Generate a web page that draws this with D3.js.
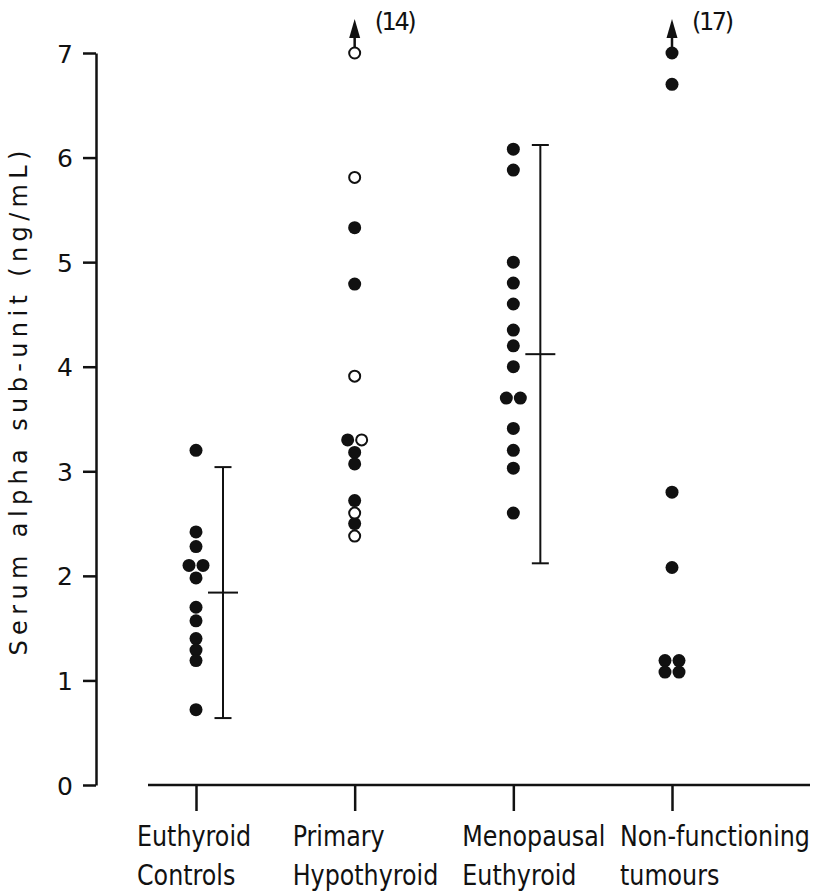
<!DOCTYPE html>
<html>
<head>
  <meta charset="UTF-8">
  <title>Serum alpha sub-unit</title>
  <script src="https://d3js.org/d3.v7.min.js"></script>
  <style>
    body {
      margin: 0;
      background: #fff;
    }
    text {
      font-family: "DejaVu Sans", sans-serif;
      fill: #111;
    }
    .axis path,
    .axis line {
      stroke: #111;
      stroke-width: 2.5;
    }
    .axis text {
      font-size: 25px;
    }
    .cat-label {
      font-size: 28px;
    }
    .bar line {
      stroke: #111;
      stroke-width: 2;
    }
  </style>
</head>
<body>
  <svg width="831" height="892"></svg>

  <script>
    // categories and values
    const categories = ["Euthyroid Controls", "Primary Hypothyroid", "Menopausal Euthyroid", "Non-functioning tumours"];
    const labelLines = [["Euthyroid", "Controls"], ["Primary", "Hypothyroid"], ["Menopausal", "Euthyroid"], ["Non-functioning", "tumours"]];

    const filledValues = [
      [3.2, 2.42, 2.28, 2.1, 2.1, 1.98, 1.7, 1.57, 1.4, 1.29, 1.19, 0.72],
      [5.33, 4.79, 3.3, 3.18, 3.07, 2.72, 2.5],
      [6.08, 5.88, 5.0, 4.8, 4.6, 4.35, 4.2, 4.0, 3.7, 3.7, 3.41, 3.2, 3.03, 2.6],
      [17, 6.7, 2.8, 2.08, 1.19, 1.19, 1.08, 1.08]
    ];
    const openValues = [
      [],
      [14, 5.81, 3.91, 3.3, 2.6, 2.38],
      [],
      []
    ];
    // mean +/- SD bars
    const meanValues = [1.84, null, 4.12, null];
    const sdValues = [1.2, null, 2.0, null];

    const yTicks = [0, 1, 2, 3, 4, 5, 6, 7];
    const yMax = 7;

    const svg = d3.select("svg");

    const x = d3.scalePoint()
      .domain(categories)
      .range([196, 672]);

    const y = d3.scaleLinear()
      .domain([0, yMax])
      .range([785, 53]);

    // y axis
    svg.append("g")
      .attr("class", "axis")
      .attr("transform", "translate(96,0)")
      .call(d3.axisLeft(y).tickValues(yTicks).tickFormat(d3.format("d"))
        .tickSize(13).tickSizeOuter(0).tickPadding(10))
      .call(g => g.selectAll("text").attr("dy", "0.36em"));

    // x axis
    const xAxis = svg.append("g")
      .attr("class", "axis")
      .attr("transform", "translate(0,785)")
      .call(d3.axisBottom(x).tickSize(26).tickSizeOuter(0).tickFormat(""));
    xAxis.select(".domain").remove();
    xAxis.append("line")
      .attr("x1", 148)
      .attr("x2", 810);

    // category labels, two lines, left aligned, squeezed to look condensed
    const labelShift = [-59, -62, -51, -52];
    categories.forEach((c, i) => {
      const t = svg.append("text")
        .attr("class", "cat-label")
        .attr("transform", `translate(${x(c) + labelShift[i]},846) scale(0.85,1)`);
      labelLines[i].forEach((line, j) => {
        t.append("tspan")
          .attr("x", 0)
          .attr("dy", j === 0 ? 0 : 39)
          .text(line);
      });
    });

    // y title
    svg.append("text")
      .attr("transform", "translate(27,403) rotate(-90)")
      .attr("text-anchor", "middle")
      .attr("textLength", 505)
      .attr("lengthAdjust", "spacing")
      .style("font-size", "24px")
      .text("Serum alpha sub-unit (ng/mL)");

    // build points, spreading equal values sideways
    const points = [];
    categories.forEach((c, i) => {
      const all = filledValues[i].map(v => ({ v, open: false }))
        .concat(openValues[i].map(v => ({ v, open: true })));
      const groups = d3.group(all, d => Math.min(d.v, yMax).toFixed(2));
      groups.forEach(list => {
        list.forEach((d, k) => {
          points.push({
            cat: c,
            v: d.v,
            open: d.open,
            dx: (k - (list.length - 1) / 2) * 14
          });
        });
      });
    });

    // error bars
    const bars = svg.append("g").attr("class", "bar");
    categories.forEach((c, i) => {
      if (meanValues[i] == null) return;
      const bx = x(c) + 27;
      const lo = meanValues[i] - sdValues[i];
      const hi = meanValues[i] + sdValues[i];
      bars.append("line").attr("x1", bx).attr("x2", bx).attr("y1", y(hi)).attr("y2", y(lo));
      bars.append("line").attr("x1", bx - 8.5).attr("x2", bx + 8.5).attr("y1", y(hi)).attr("y2", y(hi));
      bars.append("line").attr("x1", bx - 8.5).attr("x2", bx + 8.5).attr("y1", y(lo)).attr("y2", y(lo));
      bars.append("line").attr("x1", bx - 15).attr("x2", bx + 15).attr("y1", y(meanValues[i])).attr("y2", y(meanValues[i]));
    });

    // dots
    svg.append("g")
      .selectAll("circle")
      .data(points)
      .join("circle")
      .attr("cx", d => x(d.cat) + d.dx)
      .attr("cy", d => y(Math.min(d.v, yMax)))
      .attr("r", d => d.open ? 5.5 : 6.5)
      .attr("fill", d => d.open ? "#fff" : "#111")
      .attr("stroke", "#111")
      .attr("stroke-width", d => d.open ? 2 : 0);

    // off-scale values: arrow + value in brackets
    const off = points.filter(d => d.v > yMax);
    const offG = svg.append("g");
    off.forEach(d => {
      const px = x(d.cat) + d.dx;
      const py = y(yMax);
      offG.append("line")
        .attr("x1", px).attr("x2", px)
        .attr("y1", py - 6).attr("y2", py - 18)
        .attr("stroke", "#111")
        .attr("stroke-width", 2.5);
      offG.append("path")
        .attr("d", `M${px},${py - 34} L${px - 5.5},${py - 15} L${px + 5.5},${py - 15} Z`)
        .attr("fill", "#111");
      offG.append("text")
        .attr("x", px + 20)
        .attr("y", py - 23)
        .attr("textLength", 42)
        .attr("lengthAdjust", "spacing")
        .style("font-size", "24px")
        .text(`(${d.v})`);
    });
  </script>
</body>
</html>
